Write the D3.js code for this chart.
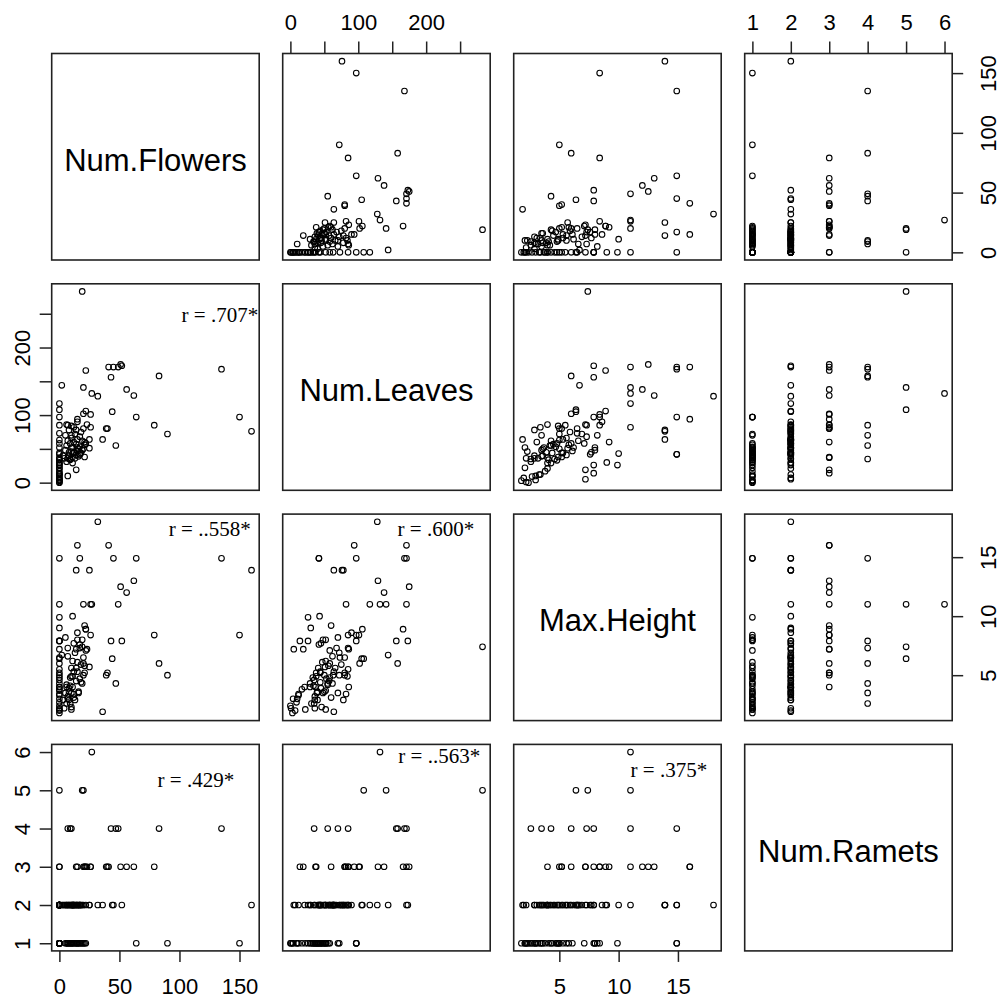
<!DOCTYPE html>
<html>
<head>
<meta charset="utf-8">
<script src="https://cdn.jsdelivr.net/npm/d3@7"></script>
<style>
  body { margin: 0; background: #fff; }
  svg { display: block; }
</style>
</head>
<body>
<div id="chart"></div>
<script>
// variable names on the diagonal
const varNames = ["Num.Flowers", "Num.Leaves", "Max.Height", "Num.Ramets"];

// one value per plant, same order in every array
const numFlowers = [160,150,135,90,83,79,64,62,56,51,
  52,49,47,45,44,43,41,39,36,32,
  27,19,20,0,22,2,17,0,15,20,
  26,21,0,0,14,23,25,21,40,7,
  10,9,0,25,14,15,0,22,11,0,
  26,22,7,11,0,0,5,15,19,10,
  0,0,12,17,0,0,0,0,0,0,
  0,0,0,0,0,0,6,7,8,9,
  11,12,13,14,15,16,18,20,21,17,
  10,0,0,0,0,0,0,0,3,5,
  6,7,8,9,10,11,12,13,14,15,
  16,17,18,19,20,12,8,6,4,10];

const numLeaves = [76,97,168,72,158,85,97,129,138,175,
  173,171,55,171,105,156,171,80,64,128,
  132,283,141,108,166,144,42,42,94,102,
  82,60,37,14,19,86,51,38,80,85,
  70,35,117,64,78,90,97,106,43,26,
  101,58,10,29,73,85,70,52,48,52,
  3,1,45,42,26,5,7,30,0,4,
  9,12,17,22,29,33,31,36,40,34,
  38,44,36,41,47,39,44,50,56,53,
  46,12,21,35,44,52,58,63,40,48,
  55,62,45,58,66,52,60,72,57,64,
  50,68,75,62,80,82,78,86,36,84];

const maxHeight = [13.9,8.4,14.9,5.0,6.0,8.4,14.9,13.0,12.0,12.5,
  7.9,11.0,4.3,14.9,6.4,7.9,16.0,5.0,1.9,18.0,
  11.0,7.4,11.0,6.4,8.9,6.7,14.9,14.9,16.0,6.0,
  11.0,9.2,4.0,7.9,7.2,7.2,5.7,5.2,5.2,7.3,
  3.5,2.6,11.0,13.9,13.9,8.6,7.9,8.9,10.0,9.9,
  8.4,7.1,3.0,4.0,6.5,5.5,8.2,8.0,8.0,2.1,
  1.8,2.2,7.7,7.6,7.9,7.2,2.0,9.0,2.4,3.0,
  2.7,3.4,3.8,2.1,4.3,4.8,2.6,3.2,3.6,4.1,
  4.9,5.3,2.9,5.6,6.1,3.5,4.4,5.0,5.8,4.7,
  2.3,3.3,4.0,4.6,5.2,3.7,6.0,5.0,2.9,3.5,
  4.2,6.6,3.9,4.8,5.6,6.2,3.1,6.9,4.5,5.3,
  3.6,7.3,5.9,4.3,6.5,3.4,2.9,4.0,2.2,4.9];

const numRamets = [2,1,4,1,4,3,1,3,3,3,
  2,4,4,2,2,4,3,3,2,2,
  6,5,5,5,3,2,2,1,3,3,
  3,3,3,3,3,3,2,3,3,4,
  4,4,2,2,2,2,1,2,2,1,
  3,1,1,2,2,2,1,1,1,1,
  1,1,2,2,2,2,2,2,1,1,
  1,1,1,1,1,1,1,1,1,1,
  1,1,1,1,1,1,1,1,1,1,
  1,2,2,2,2,2,2,2,2,2,
  2,2,2,2,2,2,2,2,2,2,
  2,2,2,2,2,2,2,2,2,2];

// tick marks and which of them get a label
const flowerTicks = [0, 50, 100, 150];
const leafTicks = [0, 50, 100, 150, 200, 250];
const leafLabels = [0, 100, 200];
const heightTicks = [5, 10, 15];
const rametTicks = [1, 2, 3, 4, 5, 6];

// correlation notes in the lower panels
const corrText = ["r = .707*", "r = ..558*", "r = .600*", "r = .429*", "r = ..563*", "r = .375*"];
const corrRow = [1, 2, 2, 3, 3, 3];
const corrCol = [0, 0, 1, 0, 1, 2];

// where each note sits inside its panel (offset from right edge, offset from top)
const corrPos = [[-1, 38], [-8.5, 21.6], [-16, 21.6], [-25, 43], [-10, 19], [-14, 32.3]];

const series = [numFlowers, numLeaves, maxHeight, numRamets];
const tickSets = [flowerTicks, leafTicks, heightTicks, rametTicks];
const labelSets = [flowerTicks, leafLabels, heightTicks, rametTicks];

const width = 1002, height = 1004;
const panelW = 207.5, panelH = 206.5;
const colLeft = c => 51.7 + c * 231;
const rowTop = r => 53.5 + r * 230.3;

const svg = d3.select("#chart").append("svg")
    .attr("width", width)
    .attr("height", height);

// R-style range: data extent widened by 4% each side
function padded(vals) {
    const [lo, hi] = d3.extent(vals);
    const p = (hi - lo) * 0.04;
    return [lo - p, hi + p];
}

const domains = series.map(padded);
const xScales = domains.map((d, c) => d3.scaleLinear().domain(d).range([colLeft(c), colLeft(c) + panelW]));
const yScales = domains.map((d, r) => d3.scaleLinear().domain(d).range([rowTop(r) + panelH, rowTop(r)]));

const n = numFlowers.length;

for (let r = 0; r < 4; r++) {
    for (let c = 0; c < 4; c++) {
        const g = svg.append("g");
        if (r === c) {
            g.append("text")
                .attr("x", colLeft(c) + panelW / 2)
                .attr("y", rowTop(r) + panelH / 2 + 14)
                .attr("text-anchor", "middle")
                .attr("font-family", "'Liberation Sans', Arial, sans-serif")
                .attr("font-size", 31)
                .attr("fill", "#000")
                .text(varNames[r]);
        } else {
            g.selectAll("circle")
                .data(d3.range(n))
                .enter()
                .append("circle")
                .attr("cx", i => xScales[c](series[c][i]))
                .attr("cy", i => yScales[r](series[r][i]))
                .attr("r", 2.8)
                .attr("fill", "none")
                .attr("stroke", "#000")
                .attr("stroke-width", 1.1);
        }
        g.append("rect")
            .attr("x", colLeft(c))
            .attr("y", rowTop(r))
            .attr("width", panelW)
            .attr("height", panelH)
            .attr("fill", "none")
            .attr("stroke", "#222")
            .attr("stroke-width", 1.6);
    }
}

// correlation notes
corrText.forEach((t, k) => {
    const r = corrRow[k], c = corrCol[k];
    svg.append("text")
        .attr("x", colLeft(c) + panelW + corrPos[k][0])
        .attr("y", rowTop(r) + corrPos[k][1])
        .attr("text-anchor", "end")
        .attr("font-family", "'Liberation Serif', 'Times New Roman', serif")
        .attr("font-size", 21)
        .attr("fill", "#000")
        .text(t);
});

function fmt(v) {
    return d => labelSets[v].includes(d) ? d : "";
}

function styleAxis(g) {
    g.select(".domain").remove();
    g.attr("font-family", "'Liberation Sans', Arial, sans-serif").attr("font-size", 22);
    g.selectAll(".tick line").attr("stroke", "#222").attr("stroke-width", 1.5);
    g.selectAll(".tick text").attr("fill", "#000");
}

// top axes (columns 2 and 4)
[1, 3].forEach(c => {
    svg.append("g")
        .attr("transform", `translate(0, ${rowTop(0)})`)
        .call(d3.axisTop(xScales[c]).tickValues(tickSets[c]).tickFormat(fmt(c)).tickSize(12).tickPadding(12))
        .call(styleAxis);
});

// bottom axes (columns 1 and 3)
[0, 2].forEach(c => {
    svg.append("g")
        .attr("transform", `translate(0, ${rowTop(3) + panelH})`)
        .call(d3.axisBottom(xScales[c]).tickValues(tickSets[c]).tickFormat(fmt(c)).tickSize(11).tickPadding(16))
        .call(styleAxis);
});

// left axes (rows 2 and 4), labels turned
[1, 3].forEach(r => {
    svg.append("g")
        .attr("transform", `translate(${colLeft(0)}, 0)`)
        .call(d3.axisLeft(yScales[r]).tickValues(tickSets[r]).tickFormat(fmt(r)).tickSize(12))
        .call(styleAxis)
        .selectAll(".tick text")
        .attr("x", 0)
        .attr("dy", 0)
        .attr("text-anchor", "middle")
        .attr("transform", "translate(-21.7,0) rotate(-90)");
});

// right axes (rows 1 and 3), labels turned
[0, 2].forEach(r => {
    svg.append("g")
        .attr("transform", `translate(${colLeft(3) + panelW}, 0)`)
        .call(d3.axisRight(yScales[r]).tickValues(tickSets[r]).tickFormat(fmt(r)).tickSize(11))
        .call(styleAxis)
        .selectAll(".tick text")
        .attr("x", 0)
        .attr("dy", 0)
        .attr("text-anchor", "middle")
        .attr("transform", "translate(44,0) rotate(-90)");
});
</script>
</body>
</html>
